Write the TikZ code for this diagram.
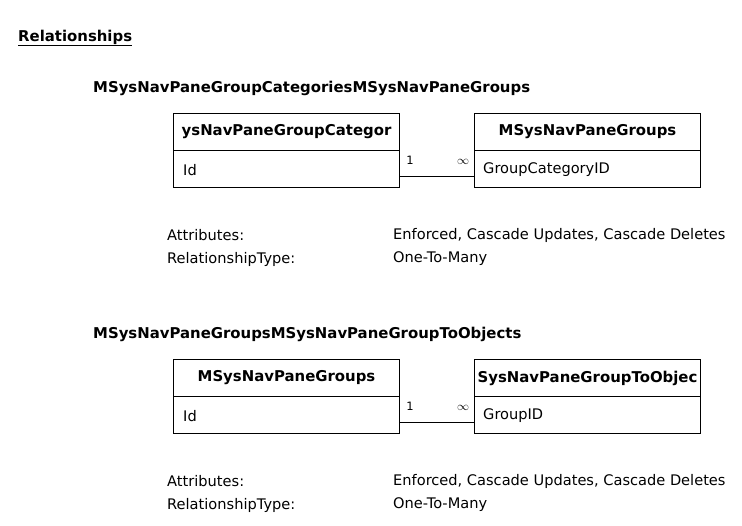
\documentclass[tikz,border=0pt]{standalone}
\usepackage{fontspec}
\setmainfont{DejaVu Sans}
\begin{document}
\begin{tikzpicture}[x=1pt,y=-1pt,
  tbl/.style={draw, line width=1pt, minimum width=226pt, minimum height=37pt, inner sep=0pt, anchor=north west},
  hdr/.style={font=\fontsize{14.9}{16}\selectfont\bfseries, inner sep=0pt},
  fld/.style={font=\fontsize{14.6}{16}\selectfont, inner sep=0pt, anchor=west},
  txt/.style={font=\fontsize{14.6}{16}\selectfont, inner sep=0pt, anchor=west},
  ttl/.style={font=\fontsize{14.9}{16}\selectfont\bfseries, inner sep=0pt, anchor=west},
  card/.style={font=\fontsize{11.5}{12}\selectfont, inner sep=0pt},
  rel/.style={line width=1pt}]
\useasboundingbox (0,0) rectangle (742,526);
\fill[white] (0,0) rectangle (742,526);
\node[ttl] (top) at (18,38) {\underline{Relationships}};
% relationship 1
\node[ttl] (t1) at (93,88) {MSysNavPaneGroupCategoriesMSysNavPaneGroups};
\node[tbl] (h1) at (173,113) {};
\node[tbl] (f1) at (173,150) {};
\node[tbl] (h2) at (474,113) {};
\node[tbl] (f2) at (474,150) {};
\begin{scope}
\clip (h1.south west) rectangle (h1.north east);
\node[hdr] (h1t) at (h1.center) {ysNavPaneGroupCategor};
\end{scope}
\node[hdr] (h2t) at (h2.center) {MSysNavPaneGroups};
\node[fld] (f1t) at (183,170) {Id};
\node[fld] (f2t) at (483,170) {GroupCategoryID};
\draw[rel] ([yshift=-7.5pt]f1.east) -- ([yshift=-7.5pt]f2.west);
\node[card] (o1) at (410,160) {1};
\node[card] (m1) at (463,162) {$\infty$};
\node[txt] (a1) at (167,235) {Attributes:};
\node[txt] (r1) at (167,259) {RelationshipType:};
\node[txt] (av1) at (393,235) {Enforced, Cascade Updates, Cascade Deletes};
\node[txt] (rv1) at (393,259) {One-To-Many};
% relationship 2
\node[ttl] (t2) at (93,334) {MSysNavPaneGroupsMSysNavPaneGroupToObjects};
\node[tbl] (h3) at (173,359) {};
\node[tbl] (f3) at (173,396) {};
\node[tbl] (h4) at (474,359) {};
\node[tbl] (f4) at (474,396) {};
\node[hdr] (h3t) at (h3.center) {MSysNavPaneGroups};
\begin{scope}
\clip (h4.south west) rectangle (h4.north east);
\node[hdr] (h4t) at (h4.center) {SysNavPaneGroupToObjec};
\end{scope}
\node[fld] (f3t) at (183,416) {Id};
\node[fld] (f4t) at (483,416) {GroupID};
\draw[rel] ([yshift=-7.5pt]f3.east) -- ([yshift=-7.5pt]f4.west);
\node[card] (o2) at (410,406) {1};
\node[card] (m2) at (463,408) {$\infty$};
\node[txt] (a2) at (167,481) {Attributes:};
\node[txt] (r2) at (167,505) {RelationshipType:};
\node[txt] (av2) at (393,481) {Enforced, Cascade Updates, Cascade Deletes};
\node[txt] (rv2) at (393,505) {One-To-Many};
\end{tikzpicture}
\end{document}
